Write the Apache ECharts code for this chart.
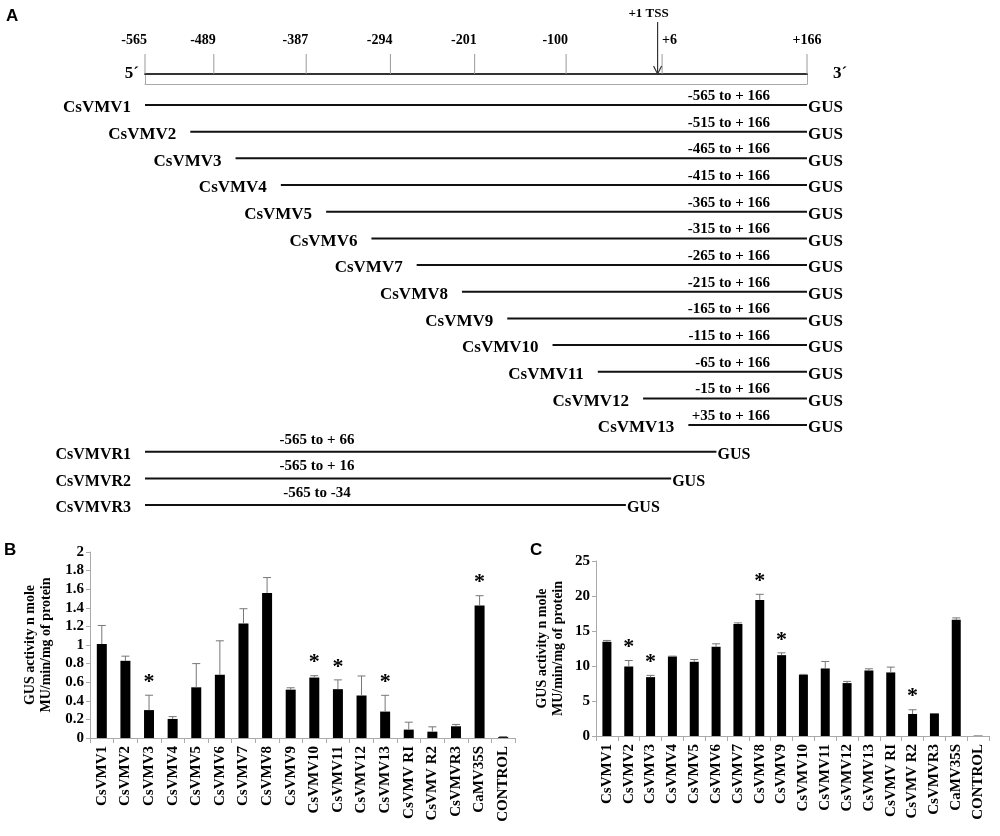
<!DOCTYPE html>
<html><head><meta charset="utf-8">
<script src="https://cdn.jsdelivr.net/npm/echarts@6/dist/echarts.min.js"></script>
<style>html,body{margin:0;padding:0;background:#fff}#chart{width:1000px;height:836px}</style>
</head><body><div id="chart"></div>
<script>
// ---------- Panel A: promoter map ----------
const scaleTicks = [-565, -489, -387, -294, -201, -100, 6, 166];
const scaleTickLabels = ['-565', '-489', '-387', '-294', '-201', '-100', '+6', '+166'];
const tssPosition = 1;
const fragmentNames = ['CsVMV1','CsVMV2','CsVMV3','CsVMV4','CsVMV5','CsVMV6','CsVMV7','CsVMV8','CsVMV9','CsVMV10','CsVMV11','CsVMV12','CsVMV13'];
const fragmentStarts = [-565, -515, -465, -415, -365, -315, -265, -215, -165, -115, -65, -15, 35];
const fragmentEnds = [166, 166, 166, 166, 166, 166, 166, 166, 166, 166, 166, 166, 166];
const fragmentRanges = ['-565 to + 166','-515 to + 166','-465 to + 166','-415 to + 166','-365 to + 166','-315 to + 166','-265 to + 166','-215 to + 166','-165 to + 166','-115 to + 166','-65 to + 166','-15 to + 166','+35 to + 166'];
const deletionNames = ['CsVMVR1', 'CsVMVR2', 'CsVMVR3'];
const deletionStarts = [-565, -565, -565];
const deletionEnds = [66, 16, -34];
const deletionRanges = ['-565 to + 66', '-565 to + 16', '-565 to -34'];

// ---------- Panels B and C: GUS activity ----------
const categories = ['CsVMV1','CsVMV2','CsVMV3','CsVMV4','CsVMV5','CsVMV6','CsVMV7','CsVMV8','CsVMV9','CsVMV10','CsVMV11','CsVMV12','CsVMV13','CsVMV RI','CsVMV R2','CsVMVR3','CaMV35S','CONTROL'];
const panelBValues = [1.01, 0.83, 0.30, 0.205, 0.545, 0.68, 1.23, 1.56, 0.52, 0.65, 0.525, 0.457, 0.284, 0.09, 0.068, 0.126, 1.425, 0.01];
const panelBErrors = [0.20, 0.05, 0.16, 0.025, 0.255, 0.365, 0.16, 0.165, 0.02, 0.02, 0.10, 0.21, 0.175, 0.08, 0.052, 0.02, 0.105, 0.005];
const panelBStars = ['CsVMV3', 'CsVMV10', 'CsVMV11', 'CsVMV13', 'CaMV35S'];
const panelBTicks = [0, 0.2, 0.4, 0.6, 0.8, 1, 1.2, 1.4, 1.6, 1.8, 2];
const panelCValues = [13.45, 9.93, 8.41, 11.36, 10.6, 12.74, 16.0, 19.44, 11.55, 8.75, 9.65, 7.56, 9.36, 9.08, 3.14, 3.23, 16.59, 0.05];
const panelCErrors = [0.2, 0.85, 0.25, 0.05, 0.33, 0.43, 0.16, 0.8, 0.33, 0.05, 1.0, 0.24, 0.24, 0.76, 0.61, 0, 0.28, 0];
const panelCStars = ['CsVMV2', 'CsVMV3', 'CsVMV8', 'CsVMV9', 'CsVMV R2'];
const panelCTicks = [0, 5, 10, 15, 20, 25];
const yAxisTitle = 'GUS activity n mole\nMU/min/mg of protein';

const SERIF = '"Liberation Serif", "Times New Roman", serif';
const rowNames = fragmentNames.concat(deletionNames);
const rowRanges = fragmentRanges.concat(deletionRanges);
const constructData = fragmentStarts.map((s, i) => [s, fragmentEnds[i], i, 0])
  .concat(deletionStarts.map((s, i) => [s, deletionEnds[i], fragmentNames.length + i, 1]));

function renderConstruct(params, api) {
  const s = api.value(0), e = api.value(1), row = api.value(2), kind = api.value(3);
  const p0 = api.coord([s, row]), p1 = api.coord([e, row]);
  const f = kind === 0 ? 17 : 16;
  const children = [
    {type: 'line', shape: {x1: p0[0], y1: p0[1], x2: p1[0], y2: p1[1]}, style: {stroke: '#111', lineWidth: 2}},
    {type: 'text', x: p0[0] - 14, y: p0[1] + 3, style: {text: rowNames[row], align: 'right', verticalAlign: 'middle', fontFamily: SERIF, fontWeight: 'bold', fontSize: f, fill: '#000'}},
    {type: 'text', x: p1[0] + 1, y: p1[1] + 3, style: {text: 'GUS', align: 'left', verticalAlign: 'middle', fontFamily: SERIF, fontWeight: 'bold', fontSize: f, fill: '#000'}}
  ];
  if (kind === 0) {
    children.push({type: 'text', x: p1[0] - 37, y: p1[1] - 9, style: {text: rowRanges[row], align: 'right', verticalAlign: 'middle', fontFamily: SERIF, fontWeight: 'bold', fontSize: 15, fill: '#000'}});
  } else {
    children.push({type: 'text', x: p0[0] + 172, y: p0[1] - 12, style: {text: rowRanges[row], align: 'center', verticalAlign: 'middle', fontFamily: SERIF, fontWeight: 'bold', fontSize: 15, fill: '#000'}});
  }
  return {type: 'group', children};
}

function renderScaleTick(params, api) {
  const v = api.value(0);
  const p = api.coord([v, 1]);
  const align = v < 0 ? 'right' : (v < 100 ? 'left' : 'center');
  const dx = v < 0 ? 2 : 0;
  return {type: 'group', children: [
    {type: 'line', shape: {x1: p[0], y1: p[1], x2: p[0], y2: p[1] - 20}, style: {stroke: '#999', lineWidth: 1}},
    {type: 'text', x: p[0] + dx, y: p[1] - 34, style: {text: scaleTickLabels[params.dataIndex], align, verticalAlign: 'middle', fontFamily: SERIF, fontWeight: 'bold', fontSize: 14, fill: '#000'}}
  ]};
}

function renderTss(params, api) {
  const p = api.coord([api.value(0), 1]);
  const x = p[0], y = p[1];
  return {type: 'group', children: [
    {type: 'line', shape: {x1: x, y1: y - 52, x2: x, y2: y}, style: {stroke: '#333', lineWidth: 1.2}},
    {type: 'polyline', shape: {points: [[x - 4, y - 8], [x, y], [x + 4, y - 8]]}, style: {stroke: '#333', lineWidth: 1.2, fill: null}},
    {type: 'text', x: x - 9, y: y - 60, style: {text: '+1 TSS', align: 'center', verticalAlign: 'middle', fontFamily: SERIF, fontWeight: 'bold', fontSize: 13, fill: '#000'}}
  ]};
}

function makeErrorRender(capHalf) {
  return function (params, api) {
    const i = api.value(0), v = api.value(1), t = api.value(2);
    if (t <= v) return null;
    const b = api.coord([i, v]), top = api.coord([i, t]);
    return {type: 'group', children: [
      {type: 'line', shape: {x1: b[0], y1: b[1], x2: top[0], y2: top[1]}, style: {stroke: '#777', lineWidth: 1}},
      {type: 'line', shape: {x1: top[0] - capHalf, y1: top[1], x2: top[0] + capHalf, y2: top[1]}, style: {stroke: '#777', lineWidth: 1}}
    ]};
  };
}

function renderStar(params, api) {
  const p = api.coord([api.value(0), api.value(1)]);
  return {type: 'text', x: p[0], y: p[1] - 2, style: {text: '*', align: 'center', verticalAlign: 'bottom', fontFamily: SERIF, fontWeight: 'bold', fontSize: 22, fill: '#000'}};
}

function errData(vals, errs) { return vals.map((v, i) => [i, v, v + errs[i]]); }
function starData(stars, vals, errs) {
  return stars.map(n => { const i = categories.indexOf(n); return [i, vals[i] + errs[i]]; });
}

function barXAxis(gridIndex) {
  return {
    type: 'category', gridIndex, data: categories,
    axisLine: {show: true, onZero: false, lineStyle: {color: '#aaa', width: 1}},
    axisTick: {show: true, length: 5, lineStyle: {color: '#aaa'}},
    axisLabel: {rotate: 90, interval: 0, margin: 8, color: '#000', fontFamily: SERIF, fontWeight: 'bold', fontSize: 15},
    splitLine: {show: false}
  };
}
function barYAxis(gridIndex, max, interval, gap) {
  return {
    type: 'value', gridIndex, min: 0, max, interval,
    name: yAxisTitle, nameLocation: 'middle', nameGap: gap, nameRotate: 90,
    nameTextStyle: {color: '#000', fontFamily: SERIF, fontWeight: 'bold', fontSize: 14, lineHeight: 16},
    axisLine: {show: true, lineStyle: {color: '#aaa', width: 1}},
    axisTick: {show: true, length: 4, lineStyle: {color: '#aaa'}},
    axisLabel: {color: '#000', fontFamily: SERIF, fontWeight: 'bold', fontSize: 15, margin: 6},
    splitLine: {show: false}
  };
}

const hiddenAxis = {axisLine: {show: false}, axisTick: {show: false}, axisLabel: {show: false}, splitLine: {show: false}};

const chart = echarts.init(document.getElementById('chart'), null, {renderer: 'canvas'});
chart.setOption({
  animation: false,
  backgroundColor: '#fff',
  grid: [
    {left: 145, width: 662, top: 91.7, height: 426.7},
    {left: 145, width: 662, top: 74, height: 10},
    {left: 90, right: 485, top: 552, bottom: 98},
    {left: 596, right: 11, top: 561, bottom: 100}
  ],
  xAxis: [
    Object.assign({type: 'value', gridIndex: 0, min: -565, max: 166}, hiddenAxis),
    {type: 'value', gridIndex: 1, min: -565, max: 166, position: 'top',
      axisLine: {show: true, onZero: false, lineStyle: {color: '#333', width: 2}},
      axisTick: {show: false}, axisLabel: {show: false}, splitLine: {show: false}},
    {type: 'value', gridIndex: 1, min: -565, max: 166, position: 'bottom',
      axisLine: {show: true, onZero: false, lineStyle: {color: '#aaa', width: 1}},
      axisTick: {show: false}, axisLabel: {show: false}, splitLine: {show: false}},
    barXAxis(2),
    barXAxis(3)
  ],
  yAxis: [
    Object.assign({type: 'category', gridIndex: 0, data: rowNames, inverse: true}, hiddenAxis),
    {type: 'value', gridIndex: 1, min: 0, max: 1, position: 'left',
      axisLine: {show: true, onZero: false, lineStyle: {color: '#aaa', width: 1}},
      axisTick: {show: false}, axisLabel: {show: false}, splitLine: {show: false}},
    {type: 'value', gridIndex: 1, min: 0, max: 1, position: 'right',
      axisLine: {show: true, onZero: false, lineStyle: {color: '#aaa', width: 1}},
      axisTick: {show: false}, axisLabel: {show: false}, splitLine: {show: false}},
    barYAxis(2, panelBTicks[panelBTicks.length - 1], panelBTicks[1] - panelBTicks[0], 36),
    barYAxis(3, panelCTicks[panelCTicks.length - 1], panelCTicks[1] - panelCTicks[0], 30)
  ],
  series: [
    {type: 'custom', xAxisIndex: 0, yAxisIndex: 0, data: constructData, renderItem: renderConstruct,
      encode: {x: [0, 1], y: 2}, silent: true, clip: false},
    {type: 'custom', xAxisIndex: 1, yAxisIndex: 1, data: scaleTicks.map(v => [v]), renderItem: renderScaleTick,
      encode: {x: 0}, silent: true, clip: false},
    {type: 'custom', xAxisIndex: 1, yAxisIndex: 1, data: [[tssPosition]], renderItem: renderTss,
      encode: {x: 0}, silent: true, clip: false},
    {type: 'bar', xAxisIndex: 3, yAxisIndex: 3, data: panelBValues, barWidth: 10, itemStyle: {color: '#000'}, silent: true},
    {type: 'custom', xAxisIndex: 3, yAxisIndex: 3, data: errData(panelBValues, panelBErrors), renderItem: makeErrorRender(4),
      encode: {x: 0, y: [1, 2]}, silent: true, z: 3},
    {type: 'custom', xAxisIndex: 3, yAxisIndex: 3, data: starData(panelBStars, panelBValues, panelBErrors), renderItem: renderStar,
      encode: {x: 0, y: 1}, silent: true, clip: false, z: 3},
    {type: 'bar', xAxisIndex: 4, yAxisIndex: 4, data: panelCValues, barWidth: 9, itemStyle: {color: '#000'}, silent: true},
    {type: 'custom', xAxisIndex: 4, yAxisIndex: 4, data: errData(panelCValues, panelCErrors), renderItem: makeErrorRender(4),
      encode: {x: 0, y: [1, 2]}, silent: true, z: 3},
    {type: 'custom', xAxisIndex: 4, yAxisIndex: 4, data: starData(panelCStars, panelCValues, panelCErrors), renderItem: renderStar,
      encode: {x: 0, y: 1}, silent: true, clip: false, z: 3}
  ],
  graphic: [
    {type: 'text', left: 6, top: 8, style: {text: 'A', fontFamily: '"Liberation Sans", Arial, sans-serif', fontWeight: 'bold', fontSize: 17, fill: '#000'}},
    {type: 'text', left: 4, top: 542, style: {text: 'B', fontFamily: '"Liberation Sans", Arial, sans-serif', fontWeight: 'bold', fontSize: 17, fill: '#000'}},
    {type: 'text', left: 530, top: 542, style: {text: 'C', fontFamily: '"Liberation Sans", Arial, sans-serif', fontWeight: 'bold', fontSize: 17, fill: '#000'}},
    {type: 'text', x: 139, y: 74, style: {text: '5´', align: 'right', verticalAlign: 'middle', fontFamily: SERIF, fontWeight: 'bold', fontSize: 17, fill: '#000'}},
    {type: 'text', x: 833, y: 74, style: {text: '3´', align: 'left', verticalAlign: 'middle', fontFamily: SERIF, fontWeight: 'bold', fontSize: 17, fill: '#000'}}
  ]
});
</script>
</body></html>
